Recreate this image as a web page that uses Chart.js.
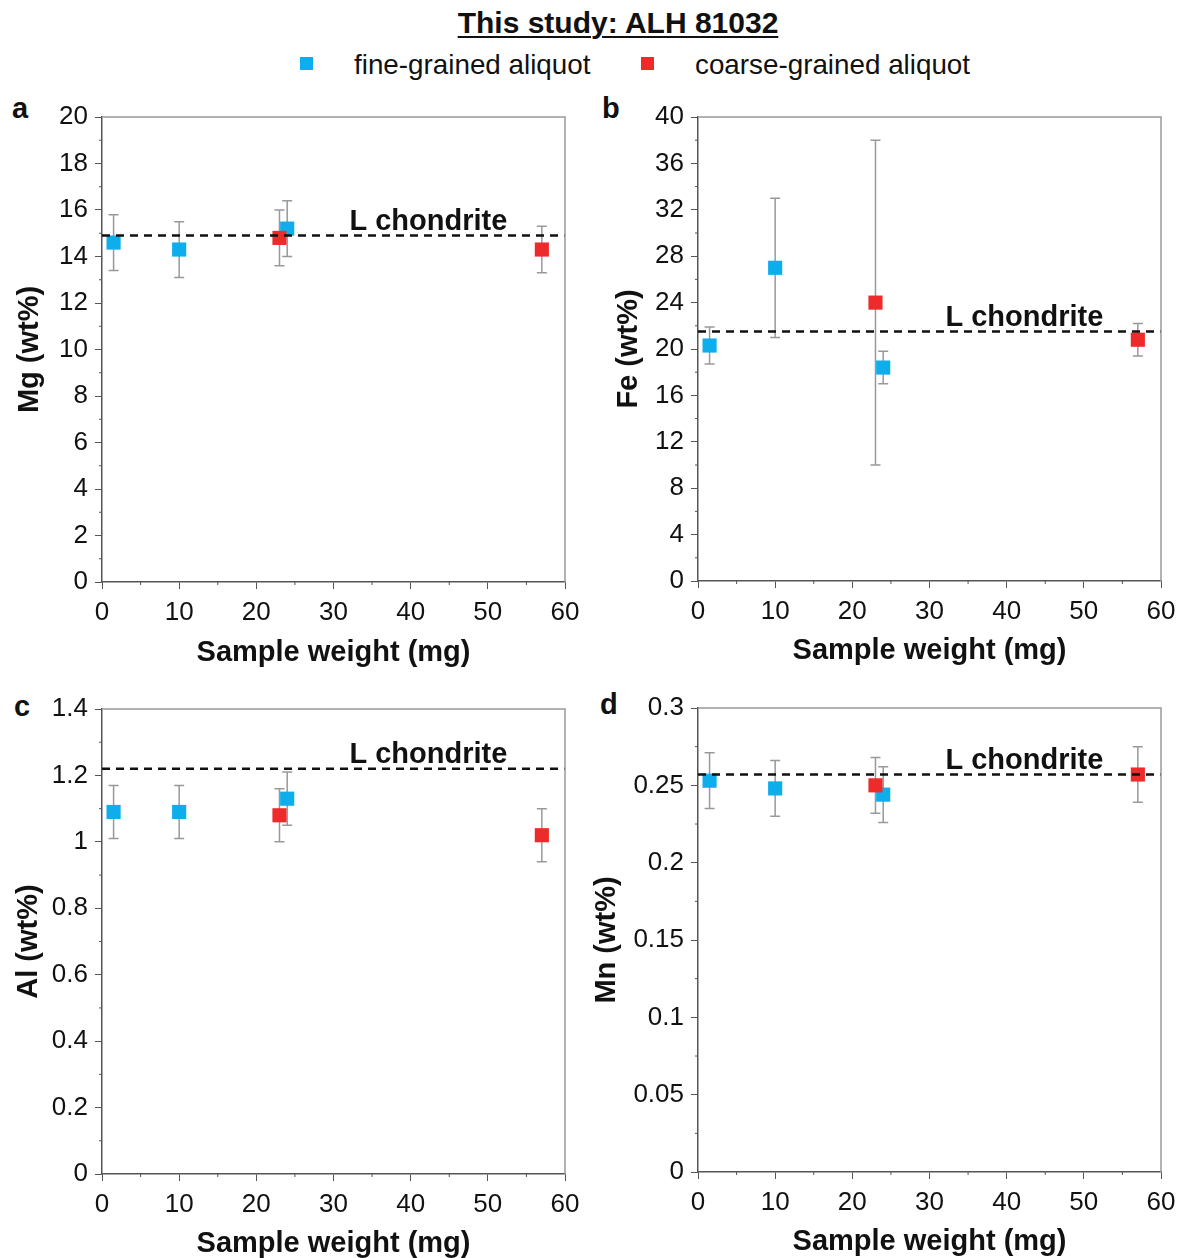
<!DOCTYPE html>
<html>
<head>
<meta charset="utf-8">
<script src="https://cdn.jsdelivr.net/npm/chart.js@4.4.1/dist/chart.umd.min.js"></script>
<style>
    body { margin: 0; background: #fff; width: 1184px; height: 1258px; position: relative; overflow: hidden;
           font-family: "Liberation Sans", Arial, sans-serif; color: #111; }
    .panel { position: absolute; }
    .txt { position: absolute; white-space: nowrap; line-height: 1; }
    .sq { position: absolute; width: 13px; height: 13px; }
</style>
</head>
<body>
<div class="txt" style="left:0;width:1236px;text-align:center;top:8px;font-size:30px;font-weight:bold;text-decoration:underline;text-decoration-thickness:2px;text-underline-offset:3px;">This study: ALH 81032</div>
<div class="sq" style="left:300px;top:57px;background:#0DAEEB;"></div>
<div class="txt" style="left:354px;top:51px;font-size:27.8px;">fine-grained aliquot</div>
<div class="sq" style="left:641px;top:57px;background:#EE2B2B;"></div>
<div class="txt" style="left:695px;top:51px;font-size:27.8px;">coarse-grained aliquot</div>

<div class="txt" style="left:12px;top:94px;font-size:29px;font-weight:bold;">a</div>
<div class="txt" style="left:602px;top:94px;font-size:29px;font-weight:bold;">b</div>
<div class="txt" style="left:14px;top:692px;font-size:29px;font-weight:bold;">c</div>
<div class="txt" style="left:600px;top:690px;font-size:29px;font-weight:bold;">d</div>

<div class="panel" style="left:0px;top:94px;width:590px;height:581px;"><canvas id="chart-mg"></canvas></div>
<div class="panel" style="left:596px;top:94px;width:588px;height:581px;"><canvas id="chart-fe"></canvas></div>
<div class="panel" style="left:0px;top:686px;width:590px;height:572px;"><canvas id="chart-al"></canvas></div>
<div class="panel" style="left:580px;top:685px;width:604px;height:573px;"><canvas id="chart-mn"></canvas></div>

<script>
// ============================================
// DATA
// ============================================

// sample weights (mg)
const weightFine = [1.5, 10, 24];
const weightCoarse = [23, 57];

// Mg (wt%)
const mgFine = [14.6, 14.3, 15.2];
const mgFineErr = [1.2, 1.2, 1.2];
const mgCoarse = [14.8, 14.3];
const mgCoarseErr = [1.2, 1.0];

// Fe (wt%)
const feFine = [20.3, 27.0, 18.4];
const feFineErr = [1.6, 6.0, 1.4];
const feCoarse = [24.0, 20.8];
const feCoarseErr = [14.0, 1.4];

// Al (wt%)
const alFine = [1.09, 1.09, 1.13];
const alFineErr = [0.08, 0.08, 0.08];
const alCoarse = [1.08, 1.02];
const alCoarseErr = [0.08, 0.08];

// Mn (wt%)
const mnFine = [0.253, 0.248, 0.244];
const mnFineErr = [0.018, 0.018, 0.018];
const mnCoarse = [0.250, 0.257];
const mnCoarseErr = [0.018, 0.018];

// L chondrite reference values: Mg, Fe, Al, Mn
const lChondrite = [14.9, 21.5, 1.22, 0.257];

// axis ticks
const xRange = [0, 60];
const xStep = 10;
const yMax = [20, 40, 1.4, 0.3];
const yStep = [2, 4, 0.2, 0.05];

// ============================================
// STYLE
// ============================================

const FONT = "'Liberation Sans', Arial, sans-serif";
const BLUE = '#0DAEEB';
const RED = '#EE2B2B';
const AXIS = '#555';

// error bars + frame + minor ticks + reference label
const panelPlugin = {
    id: 'panelExtras',
    beforeDatasetsDraw(chart) {
        const {ctx, scales: {x, y}} = chart;
        ctx.save();
        ctx.strokeStyle = '#999';
        ctx.lineWidth = 1.5;
        chart.data.datasets.forEach(ds => {
            if (!ds.errors) return;
            ds.data.forEach((p, i) => {
                const px = x.getPixelForValue(p.x);
                const top = y.getPixelForValue(p.y + ds.errors[i]);
                const bot = y.getPixelForValue(p.y - ds.errors[i]);
                ctx.beginPath();
                ctx.moveTo(px, top); ctx.lineTo(px, bot);
                ctx.moveTo(px - 5, top); ctx.lineTo(px + 5, top);
                ctx.moveTo(px - 5, bot); ctx.lineTo(px + 5, bot);
                ctx.stroke();
            });
        });
        ctx.restore();
    },
    afterDraw(chart) {
        const {ctx, chartArea: a, scales: {x, y}} = chart;
        const opts = chart.options.plugins.panelExtras;
        ctx.save();
        // top and right frame
        ctx.strokeStyle = '#999';
        ctx.lineWidth = 1.5;
        ctx.beginPath();
        ctx.moveTo(a.left, a.top); ctx.lineTo(a.right, a.top); ctx.lineTo(a.right, a.bottom);
        ctx.stroke();
        // minor ticks
        ctx.strokeStyle = AXIS;
        ctx.lineWidth = 1;
        ctx.beginPath();
        for (let v = xRange[0] + xStep / 2; v < xRange[1]; v += xStep) {
            const px = x.getPixelForValue(v);
            ctx.moveTo(px, a.bottom); ctx.lineTo(px, a.bottom + 3);
        }
        for (let k = 0; k < opts.yMax / opts.yStep; k++) {
            const py = y.getPixelForValue((k + 0.5) * opts.yStep);
            ctx.moveTo(a.left, py); ctx.lineTo(a.left - 3, py);
        }
        ctx.stroke();
        // reference label
        ctx.fillStyle = '#111';
        ctx.font = 'bold 29px ' + FONT;
        ctx.textAlign = 'center';
        ctx.textBaseline = 'alphabetic';
        ctx.fillText('L chondrite', x.getPixelForValue(42.3), y.getPixelForValue(opts.ref) - 6);
        ctx.restore();
    }
};

function makePanel(id, element, idx, fine, fineErr, coarse, coarseErr, layout) {
    const ref = lChondrite[idx];
    new Chart(document.getElementById(id), {
        type: 'scatter',
        data: {
            datasets: [
                {
                    label: 'L chondrite',
                    type: 'line',
                    data: [{x: xRange[0], y: ref}, {x: xRange[1], y: ref}],
                    borderColor: '#111',
                    borderWidth: 2.5,
                    borderDash: [8, 6],
                    pointRadius: 0,
                    fill: false,
                    order: 0
                },
                {
                    label: 'coarse-grained aliquot',
                    data: weightCoarse.map((w, i) => ({x: w, y: coarse[i]})),
                    errors: coarseErr,
                    pointStyle: 'rect',
                    pointRadius: 10,
                    backgroundColor: RED,
                    borderWidth: 0,
                    order: 1
                },
                {
                    label: 'fine-grained aliquot',
                    data: weightFine.map((w, i) => ({x: w, y: fine[i]})),
                    errors: fineErr,
                    pointStyle: 'rect',
                    pointRadius: 10,
                    backgroundColor: BLUE,
                    borderWidth: 0,
                    order: 2
                }
            ]
        },
        options: {
            responsive: true,
            maintainAspectRatio: false,
            animation: false,
            layout: { padding: layout.padding },
            plugins: {
                legend: { display: false },
                tooltip: { enabled: false },
                panelExtras: { ref: ref, yMax: yMax[idx], yStep: yStep[idx] }
            },
            scales: {
                x: {
                    type: 'linear',
                    min: xRange[0],
                    max: xRange[1],
                    afterFit: s => { s.height = layout.xHeight; },
                    border: { color: AXIS, width: 1.5 },
                    grid: { drawOnChartArea: false, tickLength: 7, color: AXIS },
                    ticks: { stepSize: xStep, color: '#111', padding: 8, font: { family: FONT, size: 26 } },
                    title: {
                        display: true,
                        text: 'Sample weight (mg)',
                        color: '#111',
                        padding: { top: 0, bottom: layout.xTitlePad },
                        font: { family: FONT, size: 29, weight: 'bold' }
                    }
                },
                y: {
                    min: 0,
                    max: yMax[idx],
                    afterFit: s => { s.width = layout.yWidth; },
                    border: { color: AXIS, width: 1.5 },
                    grid: { drawOnChartArea: false, tickLength: 7, color: AXIS },
                    ticks: {
                        stepSize: yStep[idx],
                        color: '#111',
                        padding: 7,
                        font: { family: FONT, size: 26 },
                        callback: v => String(Number(v.toFixed(3)))
                    },
                    title: {
                        display: true,
                        text: element + ' (wt%)',
                        color: '#111',
                        padding: { top: layout.yTitlePad, bottom: 0 },
                        font: { family: FONT, size: 29, weight: 'bold' }
                    }
                }
            }
        },
        plugins: [panelPlugin]
    });
}

document.addEventListener('DOMContentLoaded', () => {
    makePanel('chart-mg', 'Mg', 0, mgFine, mgFineErr, mgCoarse, mgCoarseErr,
        { padding: {top: 23, right: 25, left: 0, bottom: 0}, yWidth: 102, xHeight: 93, yTitlePad: 13, xTitlePad: 5 });
    makePanel('chart-fe', 'Fe', 1, feFine, feFineErr, feCoarse, feCoarseErr,
        { padding: {top: 23, right: 23, left: 0, bottom: 0}, yWidth: 102, xHeight: 94, yTitlePad: 16, xTitlePad: 7 });
    makePanel('chart-al', 'Al', 2, alFine, alFineErr, alCoarse, alCoarseErr,
        { padding: {top: 23, right: 25, left: 0, bottom: 0}, yWidth: 102, xHeight: 84, yTitlePad: 12, xTitlePad: -3 });
    makePanel('chart-mn', 'Mn', 3, mnFine, mnFineErr, mnCoarse, mnCoarseErr,
        { padding: {top: 23, right: 23, left: 0, bottom: 0}, yWidth: 118, xHeight: 86, yTitlePad: 10, xTitlePad: -1 });
});
</script>
</body>
</html>
